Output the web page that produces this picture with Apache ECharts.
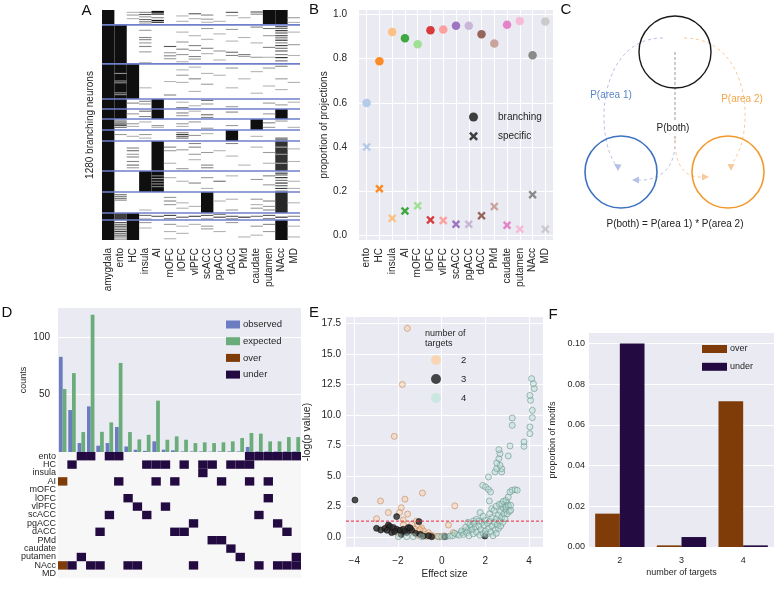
<!DOCTYPE html>
<html><head><meta charset="utf-8">
<script src="https://cdn.jsdelivr.net/npm/echarts@6/dist/echarts.min.js"></script>
<style>html,body{margin:0;padding:0;background:#fff}#c{width:774px;height:592px}</style>
</head><body><div id="c"></div>
<script>
// ---------------- DATA ----------------
// Panel A: branching neurons (1280 rows) x target areas
const areasA = ['amygdala','ento','HC','insula','AI','mOFC','lOFC','vlPFC','scACC','pgACC','dACC','PMd','caudate','putamen','NAcc','MD'];
const neuronCountA = 1280;
const groupBreaksA = [83,300,495,551,607,668,729,896,1013,1130,1169];
// [area index, first neuron, last neuron, darkness]
const solidBlocksA = [
 [0,0,1280,1],
 [13,0,83,1],[14,0,83,1],
 [1,83,300,1],
 [1,300,495,1],[2,300,495,1],
 [1,495,607,1],[4,495,607,1],[14,551,607,1],
 [12,607,668,1],
 [10,668,729,1],
 [4,729,896,1],[14,729,896,0.85],
 [3,896,1013,1],[4,896,1013,1],
 [8,1013,1130,1],[14,1013,1130,0.9],
 [1,1130,1169,0.8],[2,1130,1169,1],
 [2,1169,1280,1],[14,1169,1280,1]
];
// [area index, neuron, darkness]
const stripesA = [
 [2,10,.3],[2,25,.4],[2,45,.3],
 [3,10,.5],[3,22,.7],[3,35,.4],[3,50,.6],[3,62,.5],[3,70,.3],
 [4,5,1],[4,12,1],[4,20,.9],[4,40,.5],[4,55,1],[4,65,1],
 [6,30,.3],[6,60,.3],[7,18,.7],[7,45,.3],[8,25,.5],[8,48,.4],[8,65,.3],[9,60,.3],
 [10,10,.7],[10,28,.3],[11,40,.3],[12,8,.7],[12,20,.5],[15,40,.4],[15,66,.3],
 [3,110,.4],[3,150,.5],[3,162,.5],[3,180,.4],[3,200,.5],[3,230,.4],[3,290,.3],
 [5,200,.7],[5,235,.4],[5,252,.5],[5,268,.4],
 [6,120,.3],[6,175,.4],[6,215,.5],[6,245,.4],[6,285,.3],
 [7,140,.3],[7,195,.5],[7,222,.4],[7,256,.5],[7,270,.4],
 [8,100,.4],[8,160,.3],[8,210,.5],[8,240,.3],[9,130,.3],[9,225,.4],[9,275,.3],
 [10,105,.4],[10,170,.3],[10,232,.6],[10,250,.5],[11,150,.3],[11,245,.5],[11,255,.4],
 [12,92,.5],[12,180,.3],[12,260,.4],[13,100,.6],[13,140,.4],[13,205,.5],[13,260,.3],
 [14,90,.8],[14,100,.6],[14,112,.9],[14,125,.7],[14,140,.8],[14,152,.6],[14,165,.9],[14,180,.5],
 [14,195,.8],[14,210,.6],[14,225,.7],[14,245,.5],[14,262,.9],[14,280,.6],
 [15,120,.3],[15,190,.4],[15,250,.3],
 [1,350,.45],[1,392,.45],[1,402,.45],[1,458,.45],[1,468,.45],
 [3,430,.3],[5,395,.3],[5,470,.5],[6,330,.3],[6,360,.4],[6,400,.3],[7,315,.3],[7,380,.5],[7,450,.3],
 [8,350,.3],[8,410,.4],[9,360,.3],[10,320,.4],[10,430,.3],[11,380,.3],[12,340,.3],[12,460,.3],
 [13,320,.4],[13,420,.3],[14,310,.5],[14,380,.4],[14,440,.3],[15,400,.3],
 [3,505,.5],[3,520,.4],[2,515,.5],[6,510,.3],[6,540,.5],[7,530,.3],[8,500,.6],[8,520,.4],
 [10,535,.4],[13,515,.4],[14,525,.4],[15,510,.3],
 [3,560,.6],[3,590,.5],[2,575,.4],[6,570,.5],[6,585,.4],[7,560,.3],[8,580,.6],[8,595,.5],[10,565,.5],[13,575,.4],
 [1,615,.7],[1,625,.6],[1,632,.8],[1,640,.7],[1,650,.6],[2,630,.4],[2,645,.3],[3,620,.3],[4,640,.4],[4,650,.3],
 [6,630,.4],[6,645,.3],[7,620,.4],[8,655,.4],[10,640,.4],[13,625,.5],[13,650,.4],[14,615,.4],[15,650,.3],
 [1,690,.4],[2,700,.3],[3,690,.4],[3,710,.3],[6,680,.5],[6,690,.8],[6,700,.7],[6,710,.6],[7,695,.4],
 [8,685,.3],[12,700,.3],[14,710,.7],[14,720,.8],
 [2,765,.5],[2,780,.6],[2,800,.4],[2,815,.5],[2,840,.5],[2,860,.6],[2,875,.4],[5,760,.5],[5,780,.4],[5,850,.3],
 [6,775,.4],[6,880,.4],[7,740,.5],[7,760,.5],[7,800,.4],[7,830,.3],[8,790,.4],[8,860,.5],[8,875,.5],[9,780,.3],
 [10,740,.5],[10,810,.3],[11,860,.3],[12,760,.3],[13,790,.4],[13,850,.3],[15,770,.3],[15,840,.3],
 [14,760,.3],[14,800,.4],[14,850,.3],
 [4,920,.5],[4,935,.45],[4,950,.5],[4,965,.45],[4,980,.5],[5,930,.3],[6,950,.3],[7,960,.5],[8,930,.4],[8,990,.3],
 [9,950,.6],[10,920,.3],[12,940,.4],[13,920,.5],[13,970,.4],
 [14,905,.9],[14,915,.7],[14,930,.9],[14,945,.6],[14,960,.9],[14,975,.7],[14,990,.8],[14,1005,.6],[15,950,.3],[15,990,.3],
 [1,1025,.6],[1,1035,.5],[1,1045,.6],[1,1055,.5],[3,1110,.3],[5,1040,.4],[5,1060,.5],[5,1080,.4],[6,1070,.3],[6,1100,.3],
 [7,1090,.3],[9,1060,.3],[10,1050,.3],[10,1110,.4],[12,1050,.4],[12,1080,.3],[12,1100,.4],[13,1060,.5],[13,1090,.4],[13,1110,.5],[15,1070,.3],
 [3,1140,.6],[4,1145,.7],[5,1140,.8],[6,1150,.7],[7,1145,.8],[8,1140,.7],[9,1150,.8],[10,1145,.7],[11,1150,.9],
 [12,1145,.6],[13,1140,.7],[14,1150,.9],[15,1145,.5],[3,1160,.4],[5,1158,.5],[8,1160,.5],[9,1135,.5],[10,1160,.6],[13,1158,.5],
 [1,1180,.7],[1,1190,.6],[1,1200,.8],[1,1210,.6],[1,1220,.7],[1,1230,.8],[1,1240,.6],[1,1250,.7],[1,1260,.6],[1,1272,.5],
 [3,1180,.4],[3,1210,.3],[5,1190,.4],[5,1230,.3],[5,1270,.3],[6,1200,.3],[6,1240,.3],[7,1190,.3],[8,1200,.4],[8,1215,.4],
 [9,1230,.3],[10,1180,.4],[11,1260,.3],[12,1200,.4],[12,1250,.3],[13,1190,.5],[13,1230,.4],[15,1200,.3],[15,1260,.3]
];

// Panel B
const areasB = ['ento','HC','insula','AI','mOFC','lOFC','vlPFC','scACC','pgACC','dACC','PMd','caudate','putamen','NAcc','MD'];
const branchingB = [0.600,0.788,0.920,0.892,0.865,0.929,0.932,0.949,0.949,0.910,0.868,0.953,0.970,0.815,0.968];
const specificB  = [0.401,0.212,0.078,0.111,0.135,0.071,0.068,0.051,0.051,0.090,0.131,0.047,0.029,0.185,0.029];
const paletteB = ['#aec7e8','#ff7f0e','#ffbb78','#2ca02c','#98df8a','#d62728','#ff9896','#9467bd','#c5b0d5','#8c564b','#c49c94','#e377c2','#f7b6d2','#7f7f7f','#c7c7c7'];
const ticksB = [0,0.2,0.4,0.6,0.8,1.0];

// Panel D
const areasD = ['ento','HC','insula','AI','mOFC','lOFC','vlPFC','scACC','pgACC','dACC','PMd','caudate','putamen','NAcc','MD'];
const motifAreasD = [
 ['AI','NAcc'],['HC','NAcc'],['ento','putamen'],['ento','NAcc'],['dACC','NAcc'],['ento','scACC'],['ento','AI'],
 ['lOFC','NAcc'],['vlPFC','NAcc'],['HC','scACC'],['HC','AI'],['HC','vlPFC'],['AI','dACC'],['HC','dACC'],
 ['pgACC','NAcc'],['HC','insula'],['HC','PMd'],['AI','PMd'],['HC','caudate'],['HC','putamen'],
 ['ento','HC','AI'],['ento','scACC','NAcc'],['ento','AI','lOFC'],['ento','pgACC','NAcc'],['ento','dACC','NAcc'],['ento','putamen','NAcc']
];
const motifSignD = ['over','under','under','under','under','under','under','under','under','under','under','under','under',
 'under','under','under','under','under','under','under','under','under','under','under','under','under'];
const observedD = [83,36.6,7.8,39.8,5.5,7.8,21.8,4.8,2,1,9.3,2,1.5,0.5,0.5,0.5,0.3,0.5,0.5,0.5,4.4,0.5,0.5,0.5,0.5,0.5];
const expectedD = [55,68.8,17.4,119.8,17.6,25.8,77.7,17.4,11,15,44.8,10.7,13.6,10.7,7.8,8.4,7.8,8.4,9.3,12.2,16.6,16,9.3,9.3,13,13];
const ticksD = [50,100];

// Panel E: [effect size, -log(p)]
const targets2E = [[-1.57,17.1],[-1.80,12.5],[-2.17,8.25],[-0.88,3.6],[-2.8,2.95],[-1.68,3.1],[0.6,2.55],[-2.98,1.5],[-2.44,2.0],
 [-1.85,2.4],[-1.93,2.0],[-1.56,1.88],[-1.76,1.4],[-1.15,1.3],[-1.07,0.9],[-0.92,0.75],[-0.84,0.5],[0.31,0.98],[0.53,0.36],
 [-0.08,0.02],[-0.61,0.36],[-0.38,0.08],[-1.37,1.05],[-1.22,0.63],[-2.52,0.78],[-1.53,0.5],[-2.21,0.62],[-0.76,0.22],[-1.0,0.6],
 [-1.3,0.4],[-0.5,0.15],[-1.75,1.0],[-2.0,0.3],[-0.2,0.05],[0.1,0.1],[-1.1,0.15],[-0.7,0.05]];
const targets3E = [[-3.97,3.03],[-2.06,1.67],[-1.04,1.26],[-2.98,0.71],[-2.79,0.57],[-2.44,0.98],[-2.37,0.85],[-2.21,0.77],
 [-2.06,0.63],[-1.91,0.55],[-1.76,0.63],[-2.29,0.36],[-1.6,0.36],[-1.37,0.55],[-0.99,0.22],[-0.84,0.08],[-0.46,0.02],[0.15,0.02],
 [1.98,0.08],[-1.53,0.77],[-2.15,0.45],[-1.2,0.3],[-0.6,0.1],[-1.85,0.2],[-2.6,0.7],[-1.45,0.75],[-1.7,0.45],[-2.5,0.55]];
const targets4E = [[-1.98,0.03],[-1.6,0.03],[-1.3,0.03],[-0.92,0.03],[-0.15,0.03],[0.0,0.03],[0.2,0.03],[0.38,0.08],[0.69,0.2],
 [0.92,0.36],[1.07,0.5],[1.22,0.63],[1.37,0.82],[1.45,1.31],[1.6,1.45],[1.76,2.0],
 [0.5,0.1],[0.6,0.3],[0.8,0.15],[0.9,0.5],[1.0,0.2],[1.1,0.8],[1.15,0.35],[1.25,0.1],[1.3,1.0],[1.4,0.6],[1.45,0.25],[1.5,1.1],
 [1.55,0.8],[1.6,0.4],[1.7,1.3],[1.7,0.9],[1.75,0.15],[1.8,0.6],[1.85,1.2],[1.9,0.3],[1.95,0.95],[2.0,1.4],[2.0,0.5],[2.05,0.2],
 [2.1,1.1],[2.15,0.7],[2.2,1.3],[2.25,0.4],[2.3,1.6],[2.3,0.9],[2.35,0.1],[2.4,1.2],[2.45,0.6],[2.5,1.5],[2.5,0.3],[2.55,1.0],
 [2.6,1.8],[2.6,0.7],[2.65,1.3],[2.7,2.1],[2.7,0.9],[2.75,1.6],[2.8,2.4],[2.8,1.2],[2.85,1.9],[2.9,2.6],[2.9,1.5],[2.95,2.2],
 [3.0,2.8],[3.0,1.9],[3.05,2.5],[3.1,2.1],[1.2,1.2],[1.9,1.7],[2.2,1.9],
 [1.88,4.23],[2.01,4.1],[2.14,3.9],[2.24,3.69],[2.14,4.92],[2.18,2.95],[2.29,2.32],[2.4,2.19],[2.49,2.51],[2.64,2.68],[2.75,2.7],
 [2.82,2.92],[2.94,3.0],[3.05,3.28],[3.13,3.69],[3.23,3.83],[3.36,3.88],[3.46,3.83],[2.94,2.46],[3.05,2.6],[3.16,2.19],[3.16,2.6],
 [2.44,5.33],[2.75,5.33],[2.52,5.6],[2.75,5.6],[2.67,5.87],[2.52,6.07],[2.62,6.42],[2.67,6.83],[2.62,7.16],[3.05,6.64],[3.13,7.46],
 [3.23,9.15],[3.23,9.75],[3.77,7.43],[3.77,7.79],[4.04,8.47],[4.04,9.02],[4.15,9.78],[4.15,10.38],[4.07,11.2],[4.04,11.6],
 [4.24,12.16],[4.2,12.57],[4.12,12.98]];
const thresholdE = 1.301; // -log10(0.05)
const rangeEx = [-4.38, 4.64];
const ticksEx = [-4,-2,0,2,4];
const ticksEy = [0,2.5,5,7.5,10,12.5,15,17.5];

// Panel F
const targetsF = ['2','3','4'];
const overF  = [0.0164,0.0008,0.0717];
const underF = [0.1000,0.0049,0.0008];
const ticksF = [0,0.02,0.04,0.06,0.08,0.10];

// ---------------- STYLE ----------------
const FONT = '"Liberation Sans", Arial, sans-serif';
const TXT = '#262626';
const BG = '#eaeaf2';
const OVER = '#7f3b08', UNDER = '#230b42';
const XPATH = 'path://M0,2 L2,0 L5,3 L8,0 L10,2 L7,5 L10,8 L8,10 L5,7 L2,10 L0,8 L3,5 Z';

const aData = solidBlocksA.map(b => b.slice())
  .concat(stripesA.map(s => [s[0], s[1], s[1] + 6, s[2]]));
function grey(d){ const g = Math.round(250 - d * 235); return 'rgb(' + g + ',' + g + ',' + g + ')'; }
function renderA(params, api){
  const p0 = api.coord([api.value(0), api.value(1)]);
  const p1 = api.coord([api.value(0), api.value(2)]);
  const w = api.size([1, 0])[0];
  return {type:'rect', shape:{x:p0[0] - w/2, y:p0[1], width:w, height:Math.max(p1[1] - p0[1], 1.1)},
          style:{fill:grey(api.value(3))}};
}
function renderSep(params, api){
  const y = api.coord([0, api.value(1)])[1];
  const cs = params.coordSys;
  return {type:'line', shape:{x1:cs.x, y1:y, x2:cs.x + cs.width, y2:y}, style:{stroke:'#6f7fcc', lineWidth:1.6}};
}
function renderCell(params, api){
  const c = api.coord([api.value(0), api.value(1)]);
  const s = api.size([1, 1]);
  return {type:'rect', shape:{x:c[0] - s[0]/2, y:c[1] - s[1]/2, width:s[0], height:s[1]}, style:{fill:api.visual('color')}};
}
function cellsFor(sign){
  const out = [];
  motifAreasD.forEach((m, i) => { if (motifSignD[i] === sign) m.forEach(a => out.push([i, areasD.indexOf(a)])); });
  return out;
}
const motifIdx = motifAreasD.map((_, i) => String(i));

const tickLbl = (extra) => Object.assign({color:TXT, fontFamily:FONT, fontSize:10}, extra || {});
const nameStyle = (fs) => ({color:TXT, fontFamily:FONT, fontSize:fs || 10});
const noLine = {show:false};
const whiteSplit = {show:true, lineStyle:{color:'#ffffff', width:1}};

const option = {
  backgroundColor:'#ffffff',
  animation:false,
  grid:[
    {left:102, top:10, width:198, height:230, outerBoundsMode:'none'},
    {left:359, top:10, width:194, height:230, show:true, backgroundColor:BG, borderWidth:0, outerBoundsMode:'none'},
    {left:58, top:308, width:243, height:144, show:true, backgroundColor:BG, borderWidth:0, outerBoundsMode:'none'},
    {left:58, top:452, width:243, height:126, show:true, backgroundColor:'#f7f7f7', borderWidth:0, outerBoundsMode:'none'},
    {left:346, top:317, width:197, height:230, show:true, backgroundColor:BG, borderWidth:0, outerBoundsMode:'none'},
    {left:589, top:333, width:185, height:214, show:true, backgroundColor:BG, borderWidth:0, outerBoundsMode:'none'}
  ],
  xAxis:[
    {gridIndex:0, type:'category', data:areasA, axisLine:noLine, axisTick:noLine, splitLine:noLine,
     axisLabel:tickLbl({interval:0, rotate:90, margin:8})},
    {gridIndex:1, type:'value', min:-0.6, max:14.6, axisLine:noLine,
     axisTick:{show:false, customValues:areasB.map((_, i) => i)},
     axisLabel:tickLbl({customValues:areasB.map((_, i) => i), formatter:v => areasB[Math.round(v)], rotate:90, margin:8}),
     splitLine:whiteSplit},
    {gridIndex:2, type:'category', data:motifIdx, axisLine:noLine, axisTick:noLine, axisLabel:noLine, splitLine:noLine},
    {gridIndex:3, type:'category', data:motifIdx, axisLine:noLine, axisTick:noLine, axisLabel:noLine, splitLine:noLine},
    {gridIndex:4, type:'value', min:rangeEx[0], max:rangeEx[1], axisLine:noLine,
     axisTick:{show:false, customValues:ticksEx},
     axisLabel:tickLbl({customValues:ticksEx, formatter:v => (v < 0 ? '\u2212' + (-v) : String(v)), margin:9}),
     splitLine:whiteSplit, name:'Effect size', nameLocation:'middle', nameGap:22, nameTextStyle:nameStyle(10)},
    {gridIndex:5, type:'category', data:targetsF, axisLine:noLine, axisTick:noLine, splitLine:noLine,
     axisLabel:tickLbl({fontSize:9, margin:9}),
     name:'number of targets', nameLocation:'middle', nameGap:21, nameTextStyle:nameStyle(9)}
  ],
  yAxis:[
    {gridIndex:0, type:'value', min:0, max:neuronCountA, inverse:true, axisLine:noLine, axisTick:noLine, axisLabel:noLine,
     splitLine:noLine, name:'1280 branching neurons', nameLocation:'middle', nameGap:7, nameTextStyle:nameStyle(10)},
    {gridIndex:1, type:'value', min:-0.02, max:1.02, axisLine:noLine,
     axisTick:{show:false, customValues:ticksB},
     axisLabel:tickLbl({customValues:ticksB, formatter:v => v.toFixed(1), margin:12}),
     splitLine:whiteSplit, name:'proportion of projections', nameLocation:'middle', nameGap:13, nameTextStyle:nameStyle(10)},
    {gridIndex:2, type:'value', min:0, max:125.6, axisLine:noLine,
     axisTick:{show:false, customValues:ticksD},
     axisLabel:tickLbl({customValues:ticksD, margin:8}),
     splitLine:whiteSplit, name:'counts', nameLocation:'middle', nameGap:30, nameTextStyle:nameStyle(9)},
    {gridIndex:3, type:'category', data:areasD, inverse:true, axisLine:noLine, axisTick:noLine, splitLine:noLine,
     axisLabel:{interval:0, margin:2, color:TXT, fontFamily:'"Liberation Sans Narrow", "Liberation Sans", sans-serif', fontSize:9}},
    {gridIndex:4, type:'value', min:-0.82, max:18.03, axisLine:noLine,
     axisTick:{show:false, customValues:ticksEy},
     axisLabel:tickLbl({customValues:ticksEy, formatter:v => v.toFixed(1), margin:5}),
     splitLine:whiteSplit, name:'-log(p value)', nameLocation:'middle', nameGap:33, nameTextStyle:nameStyle(10.5)},
    {gridIndex:5, type:'value', min:0, max:0.1052, axisLine:noLine,
     axisTick:{show:false, customValues:ticksF},
     axisLabel:tickLbl({customValues:ticksF, formatter:v => v.toFixed(2), margin:4, fontSize:9}),
     splitLine:whiteSplit, name:'proportion of motifs', nameLocation:'middle', nameGap:32, nameTextStyle:nameStyle(9)}
  ],
  legend:[
    {left:469, top:112, orient:'vertical', padding:0, itemWidth:9, itemHeight:9, itemGap:9.3, selectedMode:false,
     textStyle:{color:TXT, fontFamily:FONT, fontSize:10, lineHeight:10, padding:[0,0,0,15]},
     itemStyle:{borderWidth:0},
     data:[{name:'branching', icon:'circle', itemStyle:{color:'#2b2b2b'}}, {name:'specific', icon:XPATH, itemStyle:{color:'#2b2b2b'}}]},
    {left:226, top:319.5, orient:'vertical', padding:0, itemWidth:14, itemHeight:8, itemGap:6.7, selectedMode:false, icon:'rect',
     textStyle:{color:TXT, fontFamily:FONT, fontSize:9.5, lineHeight:10, padding:[0,0,0,-2]},
     itemStyle:{borderWidth:0},
     data:['observed','expected','over','under']},
    {left:431, top:355, orient:'vertical', padding:0, itemWidth:10, itemHeight:10, itemGap:9, selectedMode:false,
     textStyle:{color:TXT, fontFamily:FONT, fontSize:9.5, lineHeight:10, padding:[0,0,0,15]},
     data:[{name:'2', icon:'circle', itemStyle:{color:'#fdd0a2', borderWidth:0}},
           {name:'3', icon:'circle', itemStyle:{color:'#1a1a1a', borderWidth:0}},
           {name:'4', icon:'circle', itemStyle:{color:'#c2e6dc', borderWidth:0}}]},
    {left:702, top:344, orient:'vertical', padding:0, itemWidth:25, itemHeight:8, itemGap:7.8, selectedMode:false, icon:'rect',
     textStyle:{color:TXT, fontFamily:FONT, fontSize:9, lineHeight:10, padding:[0,0,0,-2]},
     itemStyle:{borderWidth:0},
     data:['over','under']}
  ],
  series:[
    {type:'custom', name:'neurons', xAxisIndex:0, yAxisIndex:0, renderItem:renderA, data:aData, encode:{x:0, y:[1,2]}, clip:true, silent:true},
    {type:'custom', name:'groups', xAxisIndex:0, yAxisIndex:0, renderItem:renderSep, data:groupBreaksA.map(v => [0, v]), encode:{x:0, y:1}, silent:true, z:5},
    {type:'scatter', name:'branching', xAxisIndex:1, yAxisIndex:1, symbol:'circle', symbolSize:8.5, itemStyle:{color:'#2b2b2b', opacity:0.9},
     data:branchingB.map((v, i) => ({value:[i, v], itemStyle:{color:paletteB[i]}}))},
    {type:'scatter', name:'specific', xAxisIndex:1, yAxisIndex:1, symbol:XPATH, symbolSize:8.5, itemStyle:{color:'#2b2b2b', opacity:0.9},
     data:specificB.map((v, i) => ({value:[i, v], itemStyle:{color:paletteB[i]}}))},
    {type:'bar', name:'observed', xAxisIndex:2, yAxisIndex:2, data:observedD, barWidth:'40%', barGap:'0%', itemStyle:{color:'#6b7cc1'}},
    {type:'bar', name:'expected', xAxisIndex:2, yAxisIndex:2, data:expectedD, barWidth:'40%', barGap:'0%', itemStyle:{color:'#6aad7b'}},
    {type:'custom', name:'over', xAxisIndex:3, yAxisIndex:3, renderItem:renderCell, data:cellsFor('over'), itemStyle:{color:OVER}, encode:{x:0, y:1}},
    {type:'custom', name:'under', xAxisIndex:3, yAxisIndex:3, renderItem:renderCell, data:cellsFor('under'), itemStyle:{color:UNDER}, encode:{x:0, y:1}},
    {type:'scatter', name:'2', xAxisIndex:4, yAxisIndex:4, symbolSize:6, data:targets2E,
     itemStyle:{color:'rgba(251,206,165,0.55)', borderColor:'#c48a5c', borderWidth:0.8}},
    {type:'scatter', name:'3', xAxisIndex:4, yAxisIndex:4, symbolSize:6, data:targets3E,
     itemStyle:{color:'#262626', borderColor:'#111', borderWidth:0.8}},
    {type:'scatter', name:'4', xAxisIndex:4, yAxisIndex:4, symbolSize:6, data:targets4E,
     itemStyle:{color:'rgba(185,226,214,0.5)', borderColor:'#6d998d', borderWidth:0.8}},
    {type:'line', name:'p = 0.05', xAxisIndex:4, yAxisIndex:4, data:[[rangeEx[0], thresholdE], [rangeEx[1], thresholdE]],
     symbol:'none', silent:true, z:10, color:'#e8283a', lineStyle:{color:'#e8283a', width:1, type:[3,2]}},
    {type:'bar', name:'over', xAxisIndex:5, yAxisIndex:5, data:overF, barWidth:'40%', barGap:'0%', itemStyle:{color:OVER}},
    {type:'bar', name:'under', xAxisIndex:5, yAxisIndex:5, data:underF, barWidth:'40%', barGap:'0%', itemStyle:{color:UNDER}}
  ],
  graphic:[
    ...[['A',86.5,11],['B',314,10],['C',566,9.5],['D',7,313],['E',314,313],['F',553,315]].map(l => ({
      type:'text', z:100, x:l[1], y:l[2], style:{text:l[0], fill:'#111', font:'15px ' + FONT, align:'center', verticalAlign:'middle'}})),
    // Panel C diagram
    {type:'line', shape:{x1:675, y1:52, x2:675, y2:120}, style:{stroke:'#9a9a9a', lineWidth:1, lineDash:[3,2]}},
    {type:'line', shape:{x1:675, y1:136, x2:675, y2:142}, style:{stroke:'#9a9a9a', lineWidth:1, lineDash:[3,2]}},
    {type:'bezierCurve', shape:{x1:663, y1:38, cpx1:598, cpy1:38, cpx2:594, cpy2:135, x2:616, y2:165}, style:{stroke:'#b4c0e6', lineWidth:1, lineDash:[3,3], fill:'none'}},
    {type:'bezierCurve', shape:{x1:675, y1:140, cpx1:676, cpy1:172, cpx2:656, cpy2:181, x2:638, y2:180}, style:{stroke:'#b4c0e6', lineWidth:1, lineDash:[3,3], fill:'none'}},
    {type:'bezierCurve', shape:{x1:684, y1:38, cpx1:752, cpy1:38, cpx2:756, cpy2:135, x2:731, y2:165}, style:{stroke:'#f8c99c', lineWidth:1, lineDash:[3,3], fill:'none'}},
    {type:'bezierCurve', shape:{x1:675, y1:140, cpx1:675, cpy1:172, cpx2:690, cpy2:178, x2:703, y2:177}, style:{stroke:'#f8c99c', lineWidth:1, lineDash:[3,3], fill:'none'}},
    {type:'polygon', shape:{points:[[618,171],[614,164],[621.5,164.5]]}, style:{fill:'#b4c0e6'}},
    {type:'polygon', shape:{points:[[632,180],[639,176.5],[639,183.5]]}, style:{fill:'#b4c0e6'}},
    {type:'polygon', shape:{points:[[731,171],[727.5,164],[734.5,164]]}, style:{fill:'#f8c99c'}},
    {type:'polygon', shape:{points:[[709,177],[702,173.5],[702,180.5]]}, style:{fill:'#f8c99c'}},
    {type:'circle', shape:{cx:675, cy:52, r:36}, style:{fill:'none', stroke:'#1a1a1a', lineWidth:1.4}},
    {type:'circle', shape:{cx:621, cy:172, r:36}, style:{fill:'none', stroke:'#3d72c0', lineWidth:1.6}},
    {type:'circle', shape:{cx:728, cy:172, r:36}, style:{fill:'none', stroke:'#f4982c', lineWidth:1.6}},
    {type:'text', z:100, x:611, y:95, style:{text:'P(area 1)', fill:'#5b86c9', font:'10px ' + FONT, align:'center', verticalAlign:'middle'}},
    {type:'text', z:100, x:742, y:99.5, style:{text:'P(area 2)', fill:'#f4a64a', font:'10px ' + FONT, align:'center', verticalAlign:'middle'}},
    {type:'text', z:100, x:673, y:128.5, style:{text:'P(both)', fill:'#222', font:'10px ' + FONT, align:'center', verticalAlign:'middle'}},
    {type:'text', z:100, x:675, y:224, style:{text:'P(both) = P(area 1) * P(area 2)', fill:'#222', font:'10px ' + FONT, align:'center', verticalAlign:'middle'}},
    // Panel E legend title
    {type:'text', z:100, x:425, y:329, style:{text:'number of\ntargets', fill:TXT, font:'9px ' + FONT, lineHeight:10, align:'left', verticalAlign:'top'}}
  ]
};
const chart = echarts.init(document.getElementById('c'), null, {renderer:'canvas', width:774, height:592});
chart.setOption(option);
</script></body></html>
